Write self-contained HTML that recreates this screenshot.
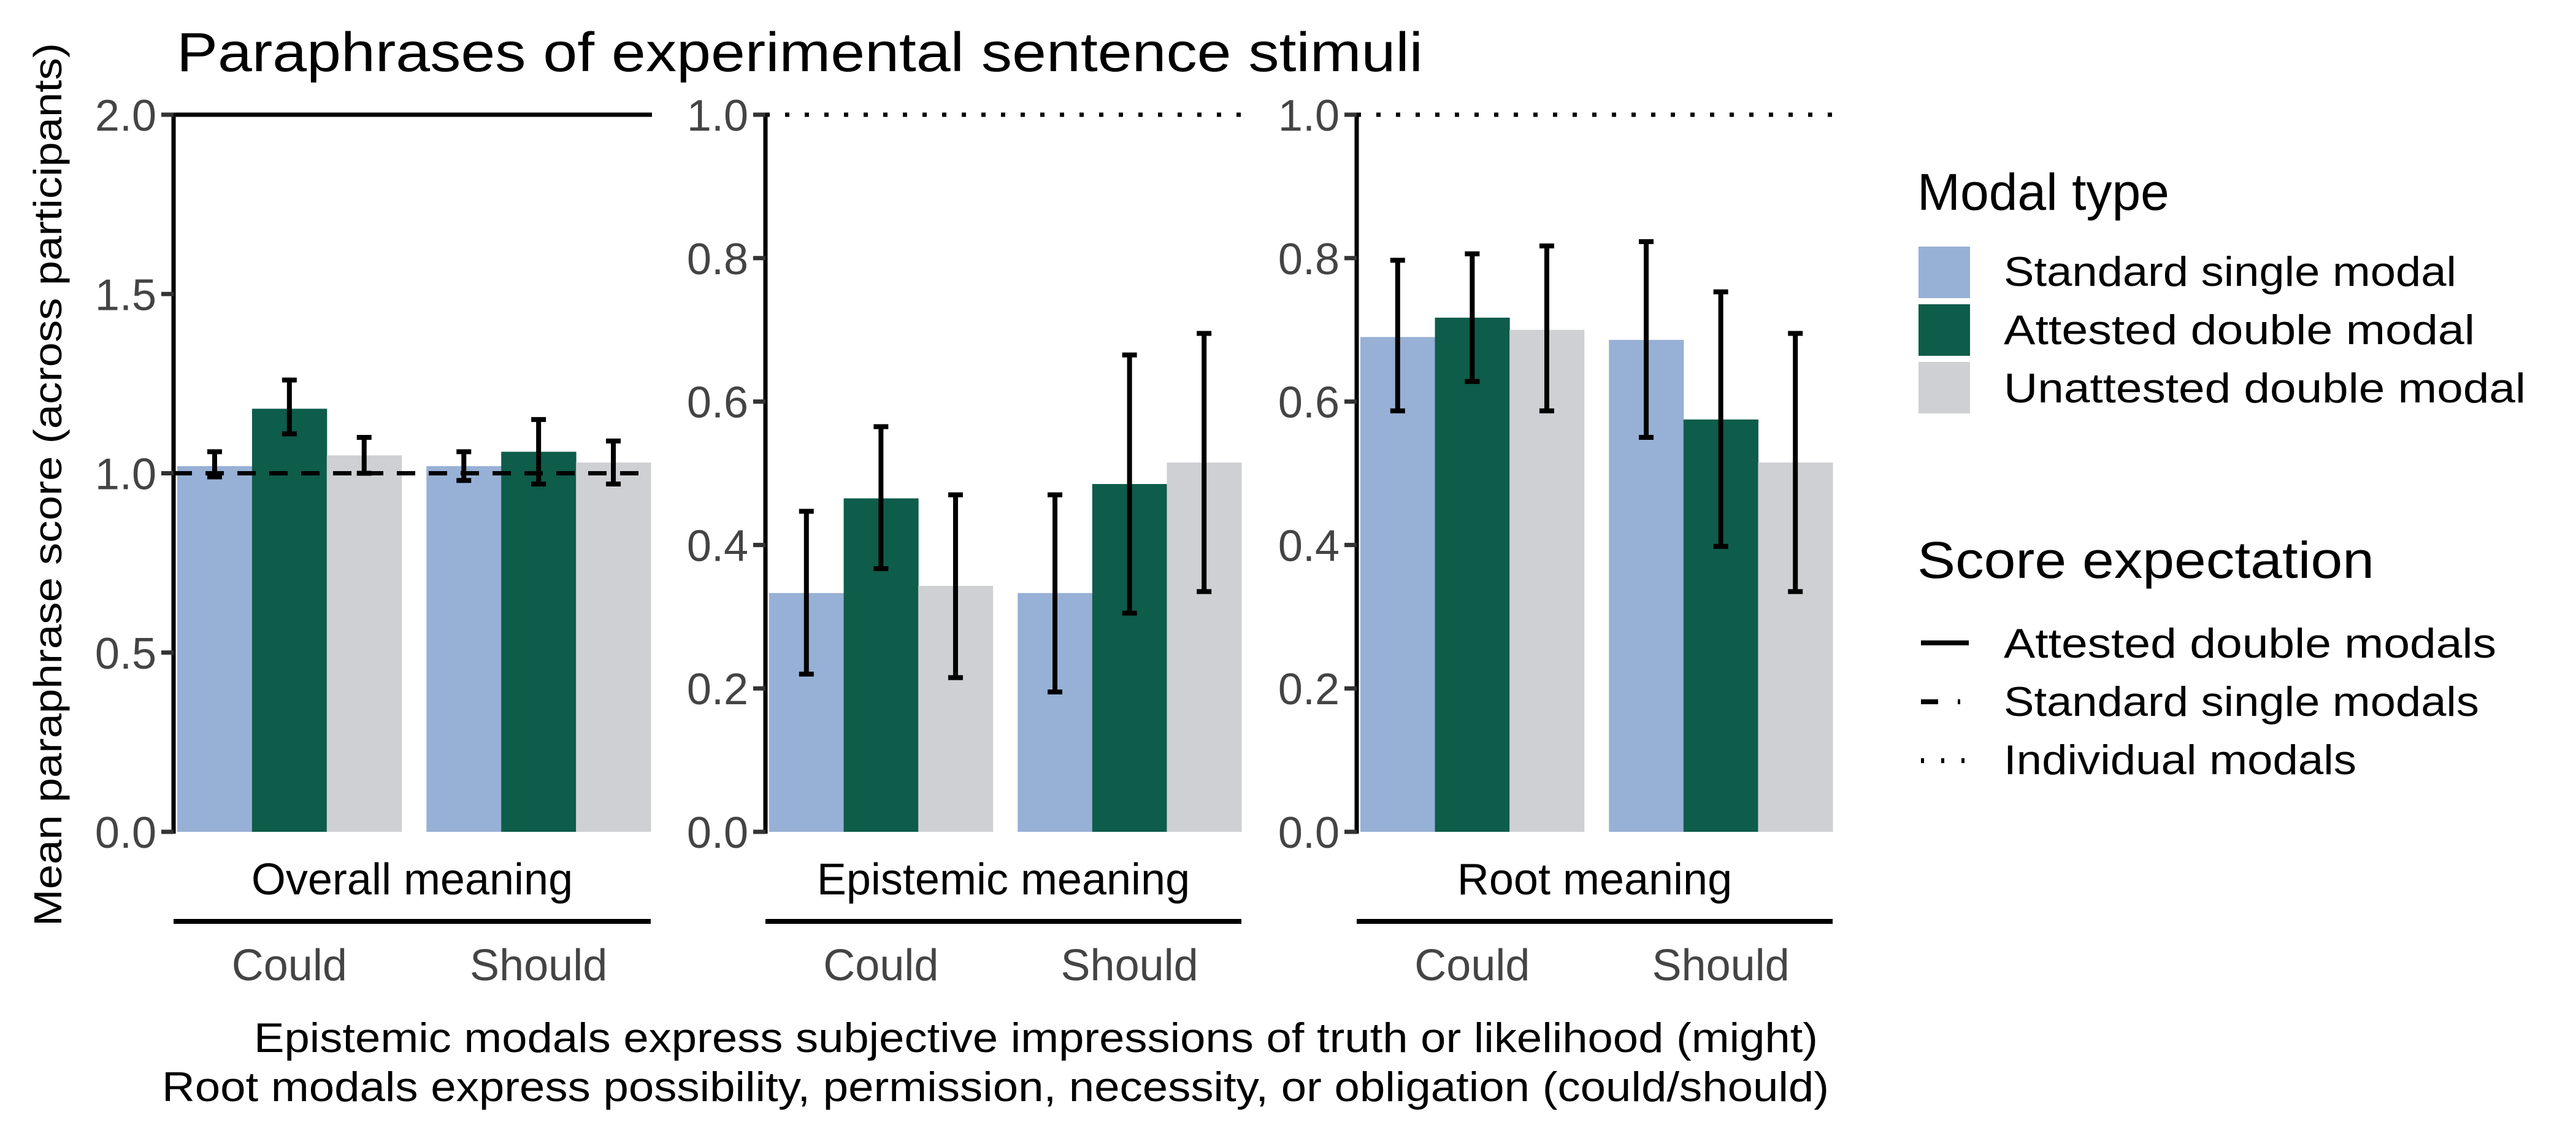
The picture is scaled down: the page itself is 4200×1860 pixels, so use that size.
<!DOCTYPE html>
<html><head><meta charset="utf-8"><style>
html,body{margin:0;padding:0;background:#fff;}
svg{display:block;font-family:"Liberation Sans",sans-serif;}
</style></head><body>
<svg id="chart" width="4200" height="1860" viewBox="0 0 4200 1860" xmlns="http://www.w3.org/2000/svg">
<text x="288" y="116" font-size="90" fill="#000" textLength="2032" lengthAdjust="spacingAndGlyphs">Paraphrases of experimental sentence stimuli</text>
<text transform="translate(100,790) rotate(-90)" text-anchor="middle" font-size="64" fill="#000" textLength="1440" lengthAdjust="spacingAndGlyphs">Mean paraphrase score (across participants)</text>
<text x="2964" y="1715" text-anchor="end" font-size="68" fill="#000" textLength="2550" lengthAdjust="spacingAndGlyphs">Epistemic modals express subjective impressions of truth or likelihood (might)</text>
<text x="2982" y="1795" text-anchor="end" font-size="68" fill="#000" textLength="2718" lengthAdjust="spacingAndGlyphs">Root modals express possibility, permission, necessity, or obligation (could/should)</text>
<g id="panels"></g>
<g>
<text x="3126" y="342" font-size="84" fill="#000">Modal type</text>
<rect x="3128" y="402" width="84" height="84" fill="#97b0d5"/>
<rect x="3128" y="496" width="84" height="84" fill="#0e5c4a"/>
<rect x="3128" y="590" width="84" height="84" fill="#cfd0d4"/>
<text x="3267" y="466" font-size="68" fill="#000" textLength="738" lengthAdjust="spacingAndGlyphs">Standard single modal</text>
<text x="3267" y="561" font-size="68" fill="#000" textLength="768" lengthAdjust="spacingAndGlyphs">Attested double modal</text>
<text x="3267" y="656" font-size="68" fill="#000" textLength="851" lengthAdjust="spacingAndGlyphs">Unattested double modal</text>
</g>
<g>
<text x="3126" y="942" font-size="84" fill="#000" textLength="745" lengthAdjust="spacingAndGlyphs">Score expectation</text>
<line x1="3132" y1="1048" x2="3210" y2="1048" stroke="#000" stroke-width="8"/>
<line x1="3132" y1="1144" x2="3210" y2="1144" stroke="#000" stroke-width="8" stroke-dasharray="28 32 4 40"/>
<line x1="3132" y1="1240" x2="3210" y2="1240" stroke="#000" stroke-width="8" stroke-dasharray="5 28"/>
<text x="3267" y="1072" font-size="68" fill="#000" textLength="803" lengthAdjust="spacingAndGlyphs">Attested double modals</text>
<text x="3267" y="1167" font-size="68" fill="#000" textLength="775" lengthAdjust="spacingAndGlyphs">Standard single modals</text>
<text x="3267" y="1262" font-size="68" fill="#000" textLength="575" lengthAdjust="spacingAndGlyphs">Individual modals</text>
</g>
</svg>
<script>
const panelNames = ["Overall meaning", "Epistemic meaning", "Root meaning"];
const groups = ["Could", "Should"];
const modalTypes = ["Standard single modal", "Attested double modal", "Unattested double modal"];
const yMaxes = [2.0, 1.0, 1.0];
const yTicks1 = ["0.0", "0.5", "1.0", "1.5", "2.0"];
const yTicks23 = ["0.0", "0.2", "0.4", "0.6", "0.8", "1.0"];
const overallMeans = [[1.02, 1.18, 1.05], [1.02, 1.06, 1.03]];
const overallLo = [[0.99, 1.11, 1.00], [0.98, 0.97, 0.97]];
const overallHi = [[1.06, 1.26, 1.10], [1.06, 1.15, 1.09]];
const epistemicMeans = [[0.333, 0.465, 0.343], [0.333, 0.485, 0.515]];
const epistemicLo = [[0.220, 0.367, 0.215], [0.195, 0.305, 0.335]];
const epistemicHi = [[0.447, 0.565, 0.470], [0.470, 0.665, 0.695]];
const rootMeans = [[0.690, 0.717, 0.700], [0.686, 0.575, 0.515]];
const rootLo = [[0.587, 0.628, 0.587], [0.550, 0.398, 0.335]];
const rootHi = [[0.797, 0.806, 0.817], [0.823, 0.753, 0.695]];
const refLines1 = [2.0, 1.0];
const refLines23 = [1.0];

const NS = "http://www.w3.org/2000/svg";
const colors = ["#97b0d5", "#0e5c4a", "#cfd0d4"];
const panelX = [[283, 289, 1061], [1248, 1254, 2024], [2212, 2218, 2988]];
const Y0 = 1356, Y1 = 187;
const root = document.getElementById("panels");
function mk(tag, attrs, parent) {
  const e = document.createElementNS(NS, tag);
  for (const k in attrs) e.setAttribute(k, attrs[k]);
  (parent || root).appendChild(e);
  return e;
}
const means = [overallMeans, epistemicMeans, rootMeans];
const los = [overallLo, epistemicLo, rootLo];
const his = [overallHi, epistemicHi, rootHi];
for (let p = 0; p < 3; p++) {
  const [ax, xl, xr] = panelX[p];
  const ymax = yMaxes[p];
  const y = v => Y0 - (v / ymax) * (Y0 - Y1);
  const unit = (xr - xl) / 1.9;
  const g = mk("g", {});
  
  
  for (let gi = 0; gi < groups.length; gi++) {
    const cx = xl + unit * (0.45 + gi);
    for (let b = 0; b < 3; b++) {
      const bx = cx - 0.45 * unit + b * 0.3 * unit;
      const v = means[p][gi][b];
      const r = mk("rect", {x: bx, y: y(v), width: 0.3 * unit + 0.5, height: Y0 - y(v), fill: colors[b]}, g);
      
      
    }
  }
  const refs = p === 0 ? refLines1 : refLines23;
  refs.forEach((rv, i) => {
    let dash = "";
    if (p === 0 && i === 1) dash = "30 22";
    if (p > 0) dash = "7 25";
    const l = mk("line", {x1: ax, x2: xr + 2, y1: y(rv), y2: y(rv), stroke: "#000", "stroke-width": 7}, g);
    if (dash) l.setAttribute("stroke-dasharray", dash);
    
    
  });
  for (let gi = 0; gi < groups.length; gi++) {
    const cx = xl + unit * (0.45 + gi);
    for (let b = 0; b < 3; b++) {
      const ex = cx - 0.3 * unit + b * 0.3 * unit;
      const lo = y(los[p][gi][b]), hi = y(his[p][gi][b]);
      const e = mk("path", {d: `M${ex - 12} ${hi}H${ex + 12}M${ex} ${hi}V${lo}M${ex - 12} ${lo}H${ex + 12}`, stroke: "#000", "stroke-width": 8, fill: "none"}, g);
      
      
    }
    const t = mk("text", {x: cx, y: 1598, "text-anchor": "middle", "font-size": 72, fill: "#444"}, g);
    t.textContent = groups[gi];
    
    
  }
  const a = mk("line", {x1: ax, x2: ax, y1: Y1 - 3, y2: Y0 + 3, stroke: "#000", "stroke-width": 7}, g);
  
  
  const ticks = p === 0 ? yTicks1 : yTicks23;
  ticks.forEach(tl => {
    const ty = y(parseFloat(tl));
    const tk = mk("line", {x1: ax - 20, x2: ax, y1: ty, y2: ty, stroke: "#333", "stroke-width": 7}, g);
    
    
    const tt = mk("text", {x: ax - 28, y: ty + 26, "text-anchor": "end", "font-size": 72, fill: "#444"}, g);
    tt.textContent = tl;
    
    
  });
  const st = mk("text", {x: (ax + xr) / 2, y: 1458, "text-anchor": "middle", "font-size": 72, fill: "#000"}, g);
  st.textContent = panelNames[p];
  
  
  const sl = mk("line", {x1: ax, x2: xr, y1: 1502, y2: 1502, stroke: "#000", "stroke-width": 8}, g);
  
  
}
</script>
</body></html>
